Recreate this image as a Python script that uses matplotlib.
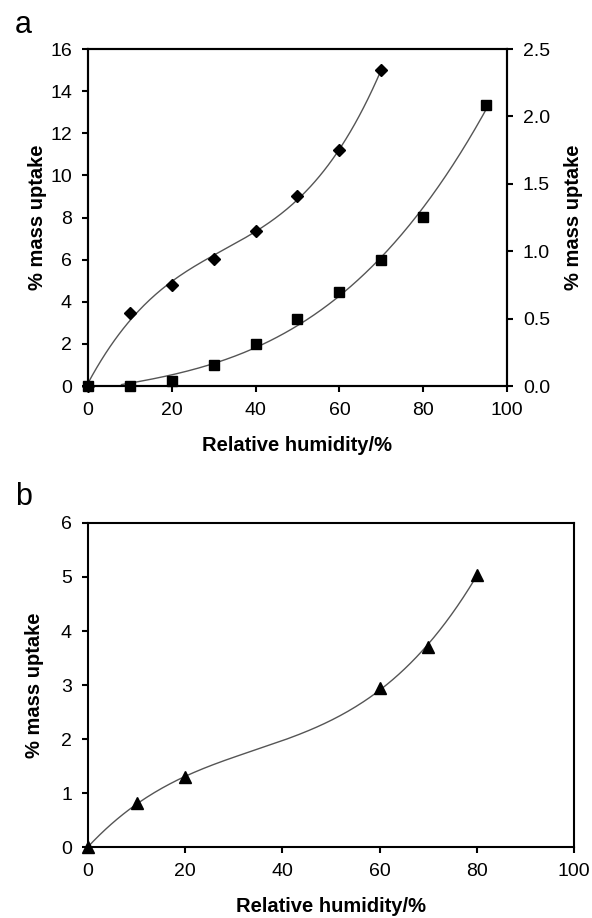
import matplotlib

matplotlib.use("Agg")
import matplotlib.pyplot as plt
import numpy as np

plt.rcParams["font.family"] = ["Liberation Sans", "DejaVu Sans"]

# --- data -------------------------------------------------------------------
rh_a_diamond = [0, 10, 20, 30, 40, 50, 60, 70]
uptake_a_diamond = [0.0, 3.45, 4.8, 6.05, 7.35, 9.0, 11.2, 15.0]

rh_a_square = [0, 10, 20, 30, 40, 50, 60, 70, 80, 95]
uptake_a_square = [0.0, 0.0, 0.04, 0.155, 0.31, 0.495, 0.70, 0.935, 1.255, 2.085]

rh_b = [0, 10, 20, 60, 70, 80]
uptake_b = [0.0, 0.81, 1.29, 2.94, 3.71, 5.04]

xticks = [0, 20, 40, 60, 80, 100]

CURVE = "#555555"
LW_AX = 1.5
TICK_FS = 14
LABEL_FS = 14.5


def style(ax):
    for s in ax.spines.values():
        s.set_linewidth(LW_AX)
    ax.tick_params(direction="out", length=4.5, width=LW_AX, labelsize=TICK_FS, pad=7)
    ax.set_xlim(0, 100)
    ax.set_xticks(xticks)
    ax.set_xlabel("Relative humidity/%", fontsize=LABEL_FS, fontweight="bold", labelpad=12)


def trend(x, y, x0, x1, deg=3):
    # polynomial trendline through the plotted points
    coef = np.polyfit(x, y, deg)
    xs = np.linspace(x0, x1, 200)
    return xs, np.polyval(coef, xs)


fig = plt.figure(figsize=(5.92, 9.18), dpi=100)

# --- panel a -----------------------------------------------------------------
ax = fig.add_axes([0.1486, 0.5795, 0.7078, 0.3671])
style(ax)
ax.set_ylim(0, 16)
ax.set_yticks(range(0, 17, 2))
ax.set_ylabel("% mass uptake", fontsize=LABEL_FS, fontweight="bold", labelpad=2)

xs, ys = trend(rh_a_diamond, uptake_a_diamond, 0, 70)
ax.plot(xs, ys, color=CURVE, lw=1.0)
ax.plot(rh_a_diamond, uptake_a_diamond, "D", color="black", ms=6, clip_on=False, zorder=3)

ax2 = ax.twinx()
for s in ax2.spines.values():
    s.set_linewidth(LW_AX)
ax2.tick_params(direction="out", length=4.5, width=LW_AX, labelsize=TICK_FS, pad=7)
ax2.set_ylim(0, 2.5)
ax2.set_yticks(np.arange(0, 2.51, 0.5))
ax2.set_yticklabels([f"{v:.1f}" for v in np.arange(0, 2.51, 0.5)])
ax2.set_ylabel("% mass uptake", fontsize=LABEL_FS, fontweight="bold", rotation=90, labelpad=10)

xs, ys = trend(rh_a_square, uptake_a_square, 8, 95)
ax2.plot(xs, np.clip(ys, 0, None), color=CURVE, lw=1.0)
ax2.plot(rh_a_square, uptake_a_square, "s", color="black", ms=7.5, clip_on=False, zorder=3)

fig.text(0.025, 0.964, "a", fontsize=22, va="baseline")

# --- panel b -----------------------------------------------------------------
bx = fig.add_axes([0.1486, 0.0773, 0.821, 0.353])
style(bx)
bx.set_ylim(0, 6)
bx.set_yticks(range(0, 7))
bx.set_ylabel("% mass uptake", fontsize=LABEL_FS, fontweight="bold", labelpad=12)

xs, ys = trend(rh_b, uptake_b, 0, 80)
bx.plot(xs, ys, color=CURVE, lw=1.0)
bx.plot(rh_b, uptake_b, "^", color="black", ms=8, clip_on=False, zorder=3)

fig.text(0.025, 0.45, "b", fontsize=22, va="baseline")

fig.savefig("out.png", dpi=100)
plt.close(fig)
